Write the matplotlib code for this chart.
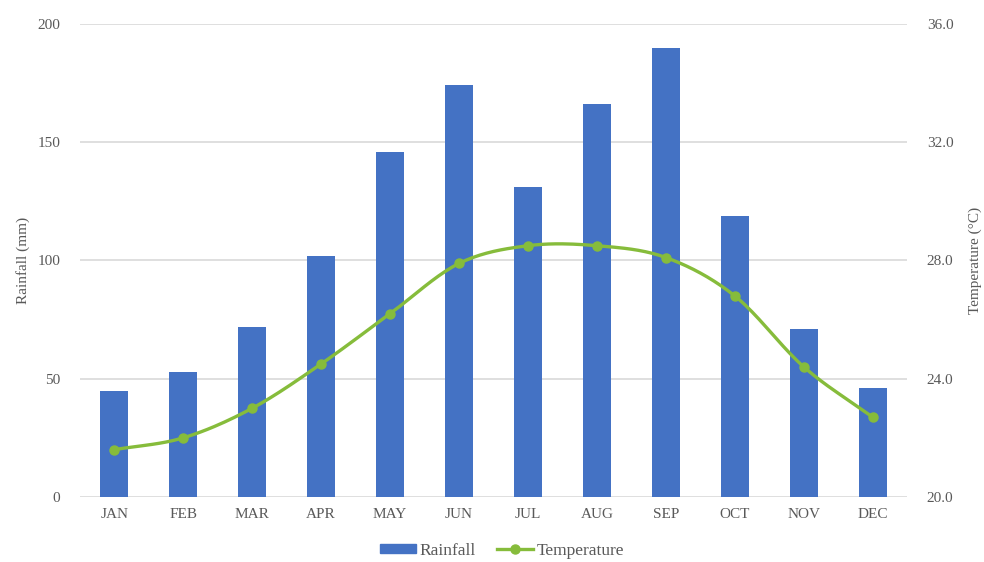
import numpy as np
import matplotlib.pyplot as plt
from matplotlib.lines import Line2D
from matplotlib.patches import Patch

months = ['JAN', 'FEB', 'MAR', 'APR', 'MAY', 'JUN',
          'JUL', 'AUG', 'SEP', 'OCT', 'NOV', 'DEC']
rainfall = [45, 53, 72, 102, 146, 174, 131, 166, 190, 119, 71, 46]
temperature = [21.6, 22.0, 23.0, 24.5, 26.2, 27.9, 28.5, 28.5, 28.1, 26.8, 24.4, 22.7]
rain_ticks = [0, 50, 100, 150, 200]
temp_ticks = [20.0, 24.0, 28.0, 32.0, 36.0]

bar_color = '#4472C4'
line_color = '#86BC3B'
text_color = '#595959'
grid_color = '#D9D9D9'

plt.rcParams['font.family'] = ['Liberation Serif', 'DejaVu Serif']


def smooth(x, y, n=20):
    # Catmull-Rom style curve through the points (like a smoothed line chart)
    x = np.asarray(x, float)
    y = np.asarray(y, float)
    px = np.concatenate([[2 * x[0] - x[1]], x, [2 * x[-1] - x[-2]]])
    py = np.concatenate([[2 * y[0] - y[1]], y, [2 * y[-1] - y[-2]]])
    xs, ys = [], []
    t = np.linspace(0, 1, n, endpoint=False)
    for i in range(1, len(px) - 2):
        for p, out in ((px, xs), (py, ys)):
            p0, p1, p2, p3 = p[i - 1], p[i], p[i + 1], p[i + 2]
            out.extend(0.5 * (2 * p1 + (-p0 + p2) * t
                              + (2 * p0 - 5 * p1 + 4 * p2 - p3) * t ** 2
                              + (-p0 + 3 * p1 - 3 * p2 + p3) * t ** 3))
    xs.append(x[-1])
    ys.append(y[-1])
    return np.array(xs), np.array(ys)


fig = plt.figure(figsize=(9.84, 5.62), dpi=100)
ax = fig.add_axes([0.081, 0.1157, 0.841, 0.8416])
x = np.arange(len(months))

ax.bar(x, rainfall, width=0.41, color=bar_color, zorder=2)
ax.set_ylim(0, 200)
ax.set_xlim(-0.5, len(months) - 0.5)
ax.set_yticks(rain_ticks)
ax.set_xticks(x)
ax.set_xticklabels(months)
ax.yaxis.grid(True, color=grid_color, linewidth=1.2, zorder=0)
ax.set_axisbelow(True)
ax.set_ylabel('Rainfall (mm)', color=text_color, fontsize=11, labelpad=5)
ax.tick_params(axis='both', length=0, colors=text_color, labelsize=11)
ax.tick_params(axis='y', pad=14)
ax.tick_params(axis='x', pad=8)
for s in ax.spines.values():
    s.set_visible(False)

ax2 = ax.twinx()
sx, sy = smooth(x, temperature)
ax2.plot(sx, sy, color=line_color, linewidth=2.4, zorder=3)
ax2.plot(x, temperature, linestyle='none', marker='o', markersize=6.5,
         color=line_color, zorder=4)
ax2.set_ylim(20, 36)
ax2.set_yticks(temp_ticks)
ax2.set_yticklabels([f'{t:.1f}' for t in temp_ticks])
ax2.set_ylabel('Temperature (°C)', color=text_color, fontsize=11,
               rotation=90, labelpad=11)
ax2.tick_params(axis='y', length=0, colors=text_color, labelsize=11, pad=14)
for s in ax2.spines.values():
    s.set_visible(False)

handles = [Patch(color=bar_color, label='Rainfall'),
           Line2D([0], [0], color=line_color, linewidth=2.4, marker='o',
                  markersize=6.5, label='Temperature')]
fig.legend(handles=handles, loc='lower center', ncol=2, frameon=False,
           bbox_to_anchor=(0.51, -0.022), fontsize=12.5, labelcolor=text_color,
           handlelength=2.1, handleheight=0.45, columnspacing=1.2,
           handletextpad=0.2)

fig.savefig('out.png', dpi=100)
